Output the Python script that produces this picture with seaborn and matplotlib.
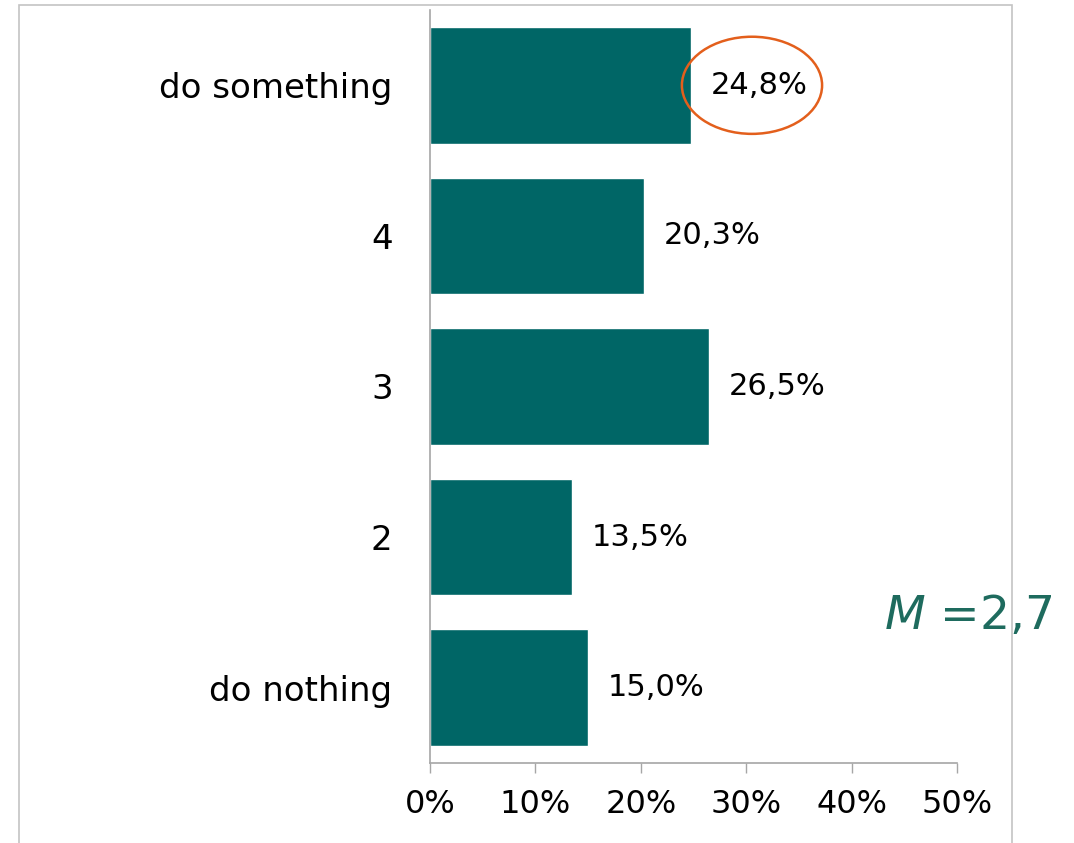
import matplotlib
matplotlib.use("Agg")
import matplotlib.pyplot as plt
import seaborn as sns
import pandas as pd
from matplotlib.patches import Ellipse, Rectangle

categories = ["do something", "4", "3", "2", "do nothing"]
values = [24.8, 20.3, 26.5, 13.5, 15.0]
tick_values = [0, 10, 20, 30, 40, 50]
tick_labels = ["0%", "10%", "20%", "30%", "40%", "50%"]
mean_text = "2,7"

sns.set_theme(style="white")
plt.rcParams["font.family"] = ["DejaVu Sans"]
plt.rcParams["mathtext.fontset"] = "dejavusans"

df = pd.DataFrame({"category": categories, "value": values})

fig = plt.figure(figsize=(10.74, 8.43), dpi=100)
ax = fig.add_axes([430 / 1074, 1 - 763 / 843, (957 - 430) / 1074, (763 - 10) / 843])

sns.barplot(data=df, x="value", y="category", orient="h", color="#006666",
            saturation=1, width=0.775, ax=ax, order=categories)

ax.set_xlim(0, 50)
ax.set_ylim(4.5, -0.5)
ax.set_xticks(tick_values)
ax.set_xticklabels(tick_labels, fontsize=23, color="#000000")
ax.tick_params(axis="x", length=7.5, width=1, color="#a6a6a6", pad=11, direction="out",
               bottom=True)
ax.tick_params(axis="y", length=0, pad=27, labelsize=24.5, labelcolor="#000000")
ax.set_xlabel("")
ax.set_ylabel("")
for s in ["top", "right"]:
    ax.spines[s].set_visible(False)
for s in ["left", "bottom"]:
    ax.spines[s].set_color("#a6a6a6")
    ax.spines[s].set_linewidth(1.2)

labels = [f"{v:.1f}".replace(".", ",") + "%" for v in values]
ax.bar_label(ax.containers[0], labels=labels, padding=14, fontsize=22, color="#000000")

# highlight ellipse around the first label
ell = Ellipse((30.55, 0.0), width=13.3, height=0.645, fill=False,
              edgecolor="#E35F1C", linewidth=1.8, clip_on=False)
ax.add_patch(ell)

# mean annotation
fig.text(968 / 1074, 1 - 617 / 843, r"$\mathit{M}$ =" + mean_text, fontsize=34,
         color="#1E6B5E", ha="center", va="center")

# outer frame
frame = Rectangle((19 / 1074, -0.05), (1012 - 19) / 1074, 1.05 - 5 / 843,
                  transform=fig.transFigure, fill=False, edgecolor="#c4c4c4",
                  linewidth=1.2)
fig.add_artist(frame)

fig.savefig("out.png", dpi=100)
